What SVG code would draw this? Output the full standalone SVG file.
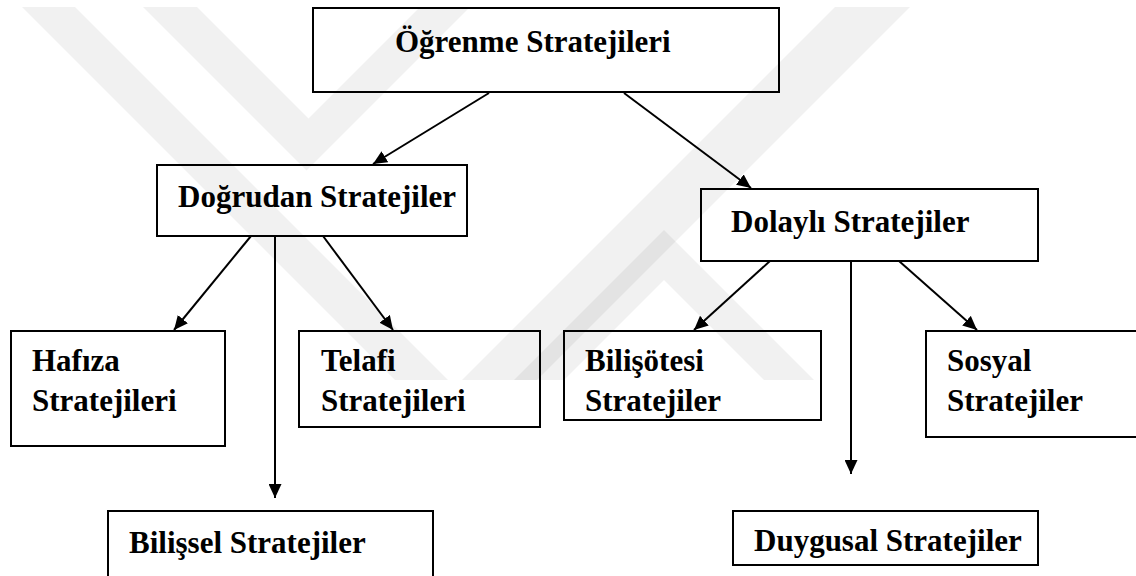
<svg xmlns="http://www.w3.org/2000/svg" width="1136" height="576" viewBox="0 0 1136 576">
  <style>
    .box { fill: #ffffff; stroke: #000000; stroke-width: 2; }
    .conn { stroke: #000000; stroke-width: 2; fill: none; marker-end: url(#arrow); }
    .wm { fill: #000000; fill-opacity: 0.055; }
  </style>
  <defs>
    <marker id="arrow" markerUnits="userSpaceOnUse" markerWidth="15" markerHeight="13" refX="14" refY="6.5" orient="auto">
      <path d="M0,0 L14,6.5 L0,13 z" fill="#000000"/>
    </marker>
  </defs>
  <rect x="0" y="0" width="1136" height="576" fill="#ffffff"/>

  <g font-family="'Liberation Serif', Tinos, 'Times New Roman', 'DejaVu Serif', serif" font-weight="bold" font-size="31" fill="#000000">
  <g id="node-ogrenme">
    <rect class="box" x="313" y="8" width="466" height="84"/>
    <text x="395" y="52">Öğrenme Stratejileri</text>
  </g>
  <g id="node-dogrudan">
    <rect class="box" x="157" y="165" width="310" height="71"/>
    <text x="178" y="207">Doğrudan Stratejiler</text>
  </g>
  <g id="node-dolayli">
    <rect class="box" x="701" y="189" width="337" height="72"/>
    <text x="731" y="232">Dolaylı Stratejiler</text>
  </g>
  <g id="node-hafiza">
    <rect class="box" x="11" y="331" width="214" height="115"/>
    <text x="32" y="371">Hafıza</text>
    <text x="32" y="411">Stratejileri</text>
  </g>
  <g id="node-telafi">
    <rect class="box" x="299" y="331" width="241" height="96"/>
    <text x="321" y="371">Telafi</text>
    <text x="321" y="411">Stratejileri</text>
  </g>
  <g id="node-bilisotesi">
    <rect class="box" x="564" y="331" width="257" height="89"/>
    <text x="585" y="371">Bilişötesi</text>
    <text x="585" y="411">Stratejiler</text>
  </g>
  <g id="node-sosyal">
    <rect class="box" x="926" y="331" width="214" height="106"/>
    <text x="947" y="371">Sosyal</text>
    <text x="947" y="411">Stratejiler</text>
  </g>
  <g id="node-bilissel">
    <rect class="box" x="108" y="511" width="325" height="80"/>
    <text x="129" y="553">Bilişsel Stratejiler</text>
  </g>
  <g id="node-duygusal">
    <rect class="box" x="733" y="511" width="305" height="54"/>
    <text x="754" y="551">Duygusal Stratejiler</text>
  </g>
  </g>

  <g id="connectors">
    <line class="conn" x1="489" y1="93" x2="373" y2="164"/>
    <line class="conn" x1="624" y1="93" x2="751" y2="188"/>
    <line class="conn" x1="251" y1="236" x2="174" y2="330"/>
    <line class="conn" x1="275" y1="236" x2="275" y2="498"/>
    <line class="conn" x1="323" y1="236" x2="393" y2="330"/>
    <line class="conn" x1="770" y1="261" x2="694" y2="330"/>
    <line class="conn" x1="851" y1="261" x2="851" y2="474"/>
    <line class="conn" x1="899" y1="261" x2="977" y2="330"/>
  </g>

  <g id="watermark">
    <polygon class="wm" points="22,7 75,7 448,380 395,380"/>
    <polygon class="wm" points="835,7 910,7 537,380 462,380"/>
    <polygon class="wm" points="143,7 197,7 308.5,118.5 420,7 470,7 306.5,170.5"/>
    <polygon class="wm" points="664,230 814,380 764,380 664,280 564,380 514,380"/>
  </g>
</svg>
